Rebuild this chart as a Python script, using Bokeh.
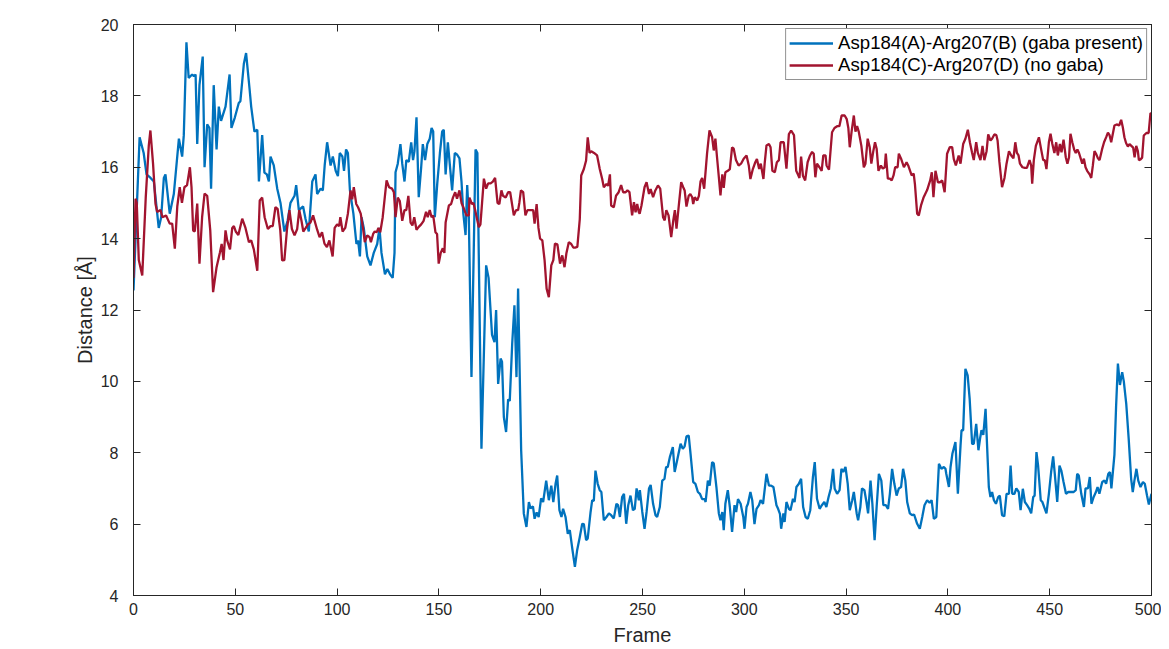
from bokeh.plotting import figure
from bokeh.models import LinearAxis, Range1d, Legend, LegendItem, FixedTicker
from bokeh.embed import file_html
from bokeh.resources import INLINE

# ---------------- data ----------------
x_ticks = [0, 50, 100, 150, 200, 250, 300, 350, 400, 450, 500]
y_ticks = [4, 6, 8, 10, 12, 14, 16, 18, 20]

label_a = "Asp184(A)-Arg207(B) (gaba present)"
label_c = "Asp184(C)-Arg207(D) (no gaba)"

blue_pts = [
    (0, 12.55), (3, 16.84), (5, 16.4), (6.4, 15.8), (8.4, 15.7), (10, 15.6), (12.4, 14.3), (13.6, 14.6),
    (14.9, 15.7), (15.7, 15.8), (17.8, 14.7), (19.8, 15.25), (22.3, 16.8), (23.9, 16.3), (24.7, 16.9),
    (26, 19.5), (27.1, 18.5), (28.8, 18.6), (29.7, 18.55), (30.5, 18.6), (31.3, 16.65), (32.4, 18.3),
    (34, 19.1), (34.9, 16.0), (36.2, 17.2), (37.3, 17.1), (38.1, 15.4), (39.4, 18.3), (40.8, 16.5),
    (41.9, 17.7), (43, 17.3), (45.2, 17.7), (47.2, 18.6), (48.1, 17.1), (49.8, 17.4), (51.7, 17.8),
    (52.5, 17.85), (54.2, 18.9), (55.3, 19.2), (57, 18.2), (57.8, 17.7), (59.4, 17.0), (60.8, 17.05),
    (61.6, 15.6), (63.2, 16.9), (64.3, 15.85), (65.5, 15.8), (66.5, 15.6), (67.3, 16.3), (68.9, 16.05),
    (70.6, 15.4), (72.2, 15.0), (74.1, 14.2), (75.7, 14.5), (77.1, 15.0), (79.1, 15.2), (79.9, 15.5),
    (81.2, 14.8), (83.3, 14.9), (84.5, 14.55), (86.1, 14.2), (87.8, 15.6), (89.4, 15.8), (90.2, 15.25),
    (91.9, 15.4), (93, 15.35), (93.9, 16.05), (95.1, 16.7), (96.8, 16.05), (97.9, 16.3), (99.3, 15.9),
    (100.4, 15.75), (101.3, 16.4), (102.6, 16.3), (103.4, 15.9), (104.4, 16.5), (105.3, 16.4),
    (106.3, 15.35), (108, 14.7), (109.5, 13.85), (110.3, 13.95), (111.2, 13.5), (112, 14.6), (113.1, 14.3),
    (114.8, 13.5), (116.4, 13.25), (118, 13.6), (119.7, 13.85), (120.8, 14.3), (121.8, 13.6), (123.5, 13.0),
    (124.7, 13.15), (126, 13.0), (127.3, 12.9), (128.2, 13.6), (128.7, 15.86), (129.8, 16.1), (131.1, 16.65),
    (132, 16.1), (133.1, 15.6), (134, 16.2), (135.2, 16.15), (136.4, 16.7), (137.3, 16.2), (138, 16.45),
    (139, 17.4), (140.1, 15.16), (141.3, 16.0), (142.1, 16.65), (143.2, 16.2), (144.3, 16.65), (145.5, 16.8),
    (146.4, 17.1), (147.2, 17.0), (148, 14.6), (149.2, 15.55), (150.5, 16.4), (151.6, 17.0), (152.4, 17.05),
    (153.3, 15.8), (154.4, 16.7), (155.4, 16.05), (156.5, 15.35), (157.8, 16.4), (159, 16.35), (160.1, 16.25),
    (161.1, 15.6), (162, 14.7), (163.1, 14.1), (163.9, 15.5), (164.7, 14.6), (166, 10.12), (168, 16.5),
    (168.9, 16.4), (170.9, 8.11), (173.2, 13.25), (174.4, 12.9), (176.1, 11.3), (177.3, 11.1), (178.1, 12.0),
    (179.1, 9.93), (180.3, 10.64), (181, 10.55), (181.9, 9.0), (183, 8.58), (184, 9.5), (184.8, 9.45),
    (186, 11.05), (187.1, 12.13), (188.1, 10.12), (188.9, 12.6), (190.4, 8.07), (191.7, 6.3), (193, 5.92),
    (194.2, 6.62), (195, 6.44), (196.2, 6.5), (197, 6.15), (198, 6.33), (199, 6.2), (200.2, 6.72),
    (201.2, 6.62), (202.7, 7.22), (204, 6.67), (205.2, 7.08), (206.2, 6.62), (207.3, 7.13), (208.1, 7.36),
    (209.2, 6.39), (210.2, 6.2), (211, 6.43), (212.2, 6.2), (213.3, 5.73), (214.3, 5.83), (215.4, 5.36),
    (216.8, 4.8), (217.9, 5.27), (219.2, 5.64), (220.4, 6.01), (221.2, 6.0), (222.3, 5.55), (223.1, 5.6),
    (224.5, 6.34), (225.3, 6.67), (226.1, 6.65), (226.9, 7.5), (228, 7.13), (229, 6.95), (229.8, 6.9),
    (231, 6.11), (232.3, 6.2), (233.5, 6.3), (234.6, 6.25), (235.9, 6.16), (237.2, 6.57), (238, 6.53),
    (238.9, 6.2), (240, 6.76), (240.9, 6.85), (242, 6.01), (243, 6.53), (244.1, 6.8), (245.3, 6.39),
    (246.2, 6.43), (247.1, 7.0), (248.2, 6.67), (248.7, 6.95), (249.9, 6.34), (251, 5.87), (252, 6.34),
    (253.2, 7.0), (254, 7.1), (255.2, 6.57), (256.4, 6.25), (257.2, 6.2), (258.5, 6.48), (259.7, 7.22),
    (260.8, 7.27), (261.6, 7.6), (262.4, 7.6), (263.4, 7.87), (264.9, 8.16), (265.8, 7.46), (267, 7.78),
    (268.7, 8.25), (269.8, 8.11), (270.7, 8.18), (271.6, 8.46), (272.7, 8.48), (273.6, 7.97), (274.9, 7.18),
    (276, 7.13), (277.2, 6.9), (278.2, 6.85), (279.3, 6.7), (280.5, 6.7), (281, 6.62), (282.1, 7.22),
    (283, 7.08), (284.2, 7.74), (285, 7.7), (286.3, 7.04), (287.5, 6.3), (288.3, 6.11), (289.2, 6.34),
    (289.9, 5.83), (290.7, 6.57), (291.9, 6.95), (292.9, 6.48), (294, 5.78), (295.2, 6.53), (296, 6.34),
    (296.9, 6.7), (298.2, 6.57), (299.5, 6.2), (300.1, 5.87), (301.1, 6.48), (301.8, 6.57), (303, 6.9),
    (303.9, 6.67), (305, 6.0), (306, 6.43), (307.2, 6.53), (308, 6.67), (309.2, 6.57), (310.9, 7.41),
    (312.1, 7.08), (313, 7.08), (314.3, 7.04), (315.8, 6.53), (316.6, 6.43), (317.5, 6.29), (318.1, 5.87),
    (319.2, 6.3), (319.8, 6.06), (320.7, 6.62), (321.9, 6.43), (322.7, 6.39), (323.9, 6.71), (324.7, 6.62),
    (325.6, 7.04), (326.8, 7.13), (327.9, 7.27), (328.9, 6.48), (330.1, 6.2), (331.2, 6.15), (332.4, 6.39),
    (333.7, 7.32), (334.6, 7.74), (335.7, 6.71), (337, 6.43), (338.1, 6.53), (339.3, 6.62), (340.3, 6.48),
    (341.4, 6.76), (342.5, 7.0), (343.6, 7.55), (344.4, 6.99), (345.6, 6.85), (346.8, 6.95), (347.7, 7.55),
    (348.6, 7.46), (349.7, 7.6), (350.8, 7.13), (351.8, 6.39), (353, 6.67), (353.8, 6.9), (355.2, 6.3),
    (355.9, 6.11), (357, 6.48), (357.8, 7.0), (359, 6.95), (360, 6.62), (360.8, 6.3), (362, 7.22),
    (362.9, 6.57), (364, 5.55), (365, 6.48), (366.1, 7.41), (367.3, 7.22), (368.3, 6.53), (369.5, 6.53),
    (370.6, 6.43), (371.5, 6.85), (372.6, 7.55), (373.7, 7.13), (374.8, 6.8), (375.9, 7.0), (377, 7.04),
    (378, 7.55), (379.1, 7.22), (380, 6.62), (381.3, 6.3), (382.4, 6.25), (383.4, 6.27), (384.9, 6.01),
    (386.2, 5.87), (387.4, 6.2), (388.5, 6.53), (389.8, 6.67), (391, 6.6), (392, 6.67), (393.1, 6.15),
    (394.3, 6.2), (395.6, 7.69), (396.8, 7.55), (398, 7.6), (398.8, 7.55), (399.2, 7.41), (400.5, 7.04),
    (401.3, 7.6), (402.2, 7.97), (403.7, 8.3), (404.9, 6.85), (406.2, 8.2), (406.7, 8.63), (407.5, 8.63),
    (408.6, 10.35), (409.7, 10.17), (410.7, 9.5), (411.9, 8.25), (412.7, 8.25), (413.9, 8.81), (415, 8.07),
    (415.8, 8.4), (416.5, 8.63), (417.4, 8.5), (418.5, 9.23), (419, 8.53), (420.1, 7.04), (420.9, 6.76),
    (421.7, 6.9), (422.6, 6.67), (423.6, 6.57), (424.7, 6.76), (425.5, 6.8), (426.6, 6.25), (427.7, 6.22),
    (428.8, 6.85), (430, 6.85), (430.8, 7.64), (431.6, 6.85), (432.7, 6.85), (433.6, 7.0), (434.8, 6.9),
    (435.7, 6.39), (436.8, 6.99), (437.8, 6.62), (438.9, 6.53), (440, 6.43), (440.9, 6.3), (441.9, 6.76),
    (442.6, 6.8), (443.5, 8.02), (444.3, 7.64), (445.6, 6.67), (446.4, 6.62), (447.6, 6.43), (448.4, 6.3),
    (449.6, 6.85), (450.7, 7.46), (451.7, 7.9), (452.5, 7.41), (453.7, 6.62), (454.8, 7.64), (455.7, 7.5),
    (456.8, 7.18), (458, 6.85), (459.1, 6.9), (460.5, 6.9), (461.8, 6.9), (462.8, 6.95), (463.5, 7.41),
    (464.3, 7.36), (465.5, 6.85), (466.8, 6.48), (467.6, 7.0), (468.8, 7.0), (469.7, 7.32), (470.5, 6.57),
    (471.6, 6.76), (472.7, 6.9), (473.5, 7.04), (474.4, 6.85), (475.8, 7.18), (476.9, 7.22), (477.7, 7.13),
    (478.8, 7.41), (479.6, 7.46), (480.3, 7.0), (481.8, 7.95), (482.6, 9.28), (483.5, 10.5), (484.5, 9.9),
    (485.6, 10.26), (486.4, 10.0), (487.6, 9.37), (488.8, 8.39), (490, 7.27), (490.8, 6.9), (491.6, 7.22),
    (492.6, 7.55), (493.5, 7.22), (494.6, 7.04), (495.8, 7.18), (496.7, 7.13), (497.8, 6.8), (498.7, 6.55),
    (500, 6.85),
]

red_pts = [
    (0, 12.9), (1, 15.12), (1.6, 15.0), (2.6, 13.4), (4.3, 12.97), (6, 15.14), (7.5, 16.6), (8.3, 17.03),
    (9.6, 16.1), (10.8, 14.98), (11.6, 14.75), (13.3, 14.8), (14.2, 14.6), (16, 14.65), (17.8, 14.42),
    (19, 14.42), (20.3, 13.72), (21.5, 14.9), (22.7, 15.44), (23.8, 15.0), (25, 15.44), (26.3, 15.5),
    (27.7, 16.0), (28.5, 15.44), (29.3, 14.23), (30.1, 14.2), (31.3, 14.98), (32.4, 13.3), (33.7, 14.6),
    (34.9, 15.26), (36.2, 15.2), (37.7, 14.23), (39.1, 12.5), (40.8, 13.2), (42.4, 13.6), (43.3, 13.85),
    (44.2, 13.4), (45.2, 14.23), (46, 13.95), (47.4, 13.7), (48.5, 14.3), (49.3, 14.35), (50.2, 14.2),
    (51.5, 14.1), (53.4, 14.56), (55, 14.3), (56.7, 13.9), (57.8, 13.95), (59.1, 13.7), (60.8, 13.1),
    (62, 15.07), (63.2, 15.15), (64.4, 14.6), (66, 14.27), (67.3, 14.35), (68.4, 14.35), (69.7, 14.88),
    (70.8, 14.83), (72.1, 14.23), (73, 13.39), (74.1, 13.4), (75.4, 14.27), (76.6, 14.8), (77.8, 14.27),
    (79.1, 14.09), (80.4, 14.27), (81.4, 14.8), (82.5, 14.5), (83.4, 14.2), (84.6, 14.3), (85.7, 14.4),
    (86.9, 14.45), (88.2, 14.65), (90.2, 14.25), (91.4, 14.04), (92.6, 14.18), (93.8, 13.86), (95, 13.76),
    (96.2, 13.95), (97.8, 13.5), (98.8, 14.3), (100, 14.4), (101, 14.35), (101.6, 14.6), (102.7, 14.2),
    (104, 14.3), (105.3, 14.7), (106.6, 15.35), (107.4, 15.1), (108.2, 15.44), (109.4, 14.97), (110.3, 14.88),
    (111.6, 14.7), (112.8, 14.27), (113.6, 13.9), (114.8, 14.09), (116, 14.04), (116.6, 13.9), (117.7, 14.13),
    (118.5, 14.2), (119.5, 14.18), (120.3, 14.3), (121.2, 14.18), (122.4, 14.6), (124.3, 15.63),
    (125.5, 15.44), (127, 15.4), (127.9, 15.3), (128.7, 14.6), (129.8, 15.15), (130.8, 15.05), (132, 14.5),
    (133.1, 14.8), (134, 14.8), (135, 15.2), (136.1, 14.45), (137, 14.37), (137.9, 14.6), (139, 14.25),
    (140.1, 14.33), (141.3, 14.4), (142.5, 14.5), (143.7, 14.75), (144.5, 14.6), (145.5, 14.8), (146.4, 14.6),
    (147.2, 14.65), (148.3, 14.18), (149.1, 14.13), (149.9, 13.3), (150.9, 13.6), (151.9, 13.73),
    (152.7, 13.6), (153.3, 14.45), (154.9, 14.93), (156, 14.97), (156.9, 15.15), (158, 15.3), (158.9, 15.12),
    (160.1, 15.35), (161.1, 15.0), (162.2, 14.85), (163.5, 14.65), (164.7, 14.65), (165, 15.15),
    (166.2, 14.97), (167, 15.0), (167.8, 14.8), (169.6, 14.32), (170.4, 14.4), (171.2, 15.0), (172.1, 15.68),
    (173.2, 15.4), (174.2, 15.55), (175.4, 15.55), (176.5, 15.6), (177.6, 15.7), (178.8, 15.0),
    (179.7, 14.97), (180.7, 15.35), (181.5, 15.2), (182.8, 15.15), (184, 15.3), (185, 15.3), (186.8, 14.65),
    (187.9, 14.8), (188.9, 14.8), (189.5, 15.0), (190.3, 15.35), (191.4, 15.3), (192.5, 14.65),
    (193.5, 14.8), (195, 14.8), (196.3, 14.8), (197, 14.42), (198, 14.97), (198.9, 14.3), (199.7, 14.0),
    (200.8, 13.95), (201.9, 13.4), (202.9, 12.6), (204, 12.36), (205.2, 13.25), (206.2, 13.4), (207, 13.86),
    (208.2, 13.84), (209.5, 13.3), (210.6, 13.53), (211.7, 13.2), (212.6, 13.58), (213.8, 13.9),
    (215, 13.85), (216, 13.75), (216.9, 13.75), (218, 13.77), (219.2, 14.55), (219.9, 15.77),
    (221.2, 15.95), (222.3, 16.19), (223.1, 16.84), (224, 16.4), (224.8, 16.45), (226.2, 16.4),
    (227.7, 16.33), (229, 15.95), (230.2, 15.67), (231, 15.44), (232.3, 15.53), (233.1, 15.48), (234, 15.8),
    (234.6, 14.93), (235.9, 14.88), (237, 15.2), (238.3, 15.3), (239.5, 15.5), (240.5, 15.3), (241.7, 15.3),
    (242.6, 15.35), (243.6, 15.3), (244.9, 14.65), (245.8, 15.02), (246.6, 14.74), (247.4, 14.97),
    (248.2, 14.74), (248.6, 14.7), (249.5, 14.93), (251, 15.44), (252, 15.58), (253.2, 15.25),
    (254, 15.39), (255.2, 15.16), (256.3, 15.35), (257.6, 15.49), (258.7, 15.4), (260.1, 14.6),
    (260.9, 14.51), (261.7, 14.8), (262.8, 14.65), (264.1, 14.04), (265.1, 14.5), (265.9, 14.8),
    (266.7, 14.28), (267.9, 14.97), (269, 15.58), (270, 15.44), (270.7, 15.35), (271.6, 14.9),
    (272.7, 15.2), (273.5, 15.25), (274.4, 15.16), (274.9, 14.97), (275.7, 15.16), (276.9, 15.07),
    (277.7, 15.2), (278.5, 15.6), (279.3, 15.7), (280.3, 15.4), (281.7, 16.38), (282.9, 17.03),
    (284.2, 16.84), (285, 16.47), (285.8, 16.8), (286.6, 16.28), (287.5, 15.72), (288.3, 15.21),
    (289.2, 15.8), (289.9, 15.42), (290.7, 15.86), (291.9, 15.9), (292.9, 15.95), (294, 16.56),
    (294.8, 16.52), (295.9, 16.2), (297.2, 16.05), (298.4, 16.1), (299.7, 16.24), (301.1, 16.33),
    (302.2, 16.05), (303, 15.67), (304.2, 15.95), (305.4, 16.14), (306.2, 16.23), (307.3, 15.95),
    (308.1, 16.1), (309.4, 15.67), (310, 16.1), (310.9, 16.61), (312.1, 16.65), (312.9, 16.56),
    (313.8, 15.9), (315, 15.86), (316, 16.14), (317, 16.2), (317.8, 16.7), (319.4, 16.7), (320.7, 15.96),
    (321.9, 16.93), (323, 17.03), (324.4, 16.9), (325.5, 15.9), (326.3, 15.8), (327.1, 15.7), (327.9, 16.3),
    (328.8, 15.76), (329.9, 15.63), (331.1, 16.14), (332.3, 16.33), (333.3, 16.43), (334.1, 16.38),
    (334.9, 15.72), (335.7, 16.1), (336.9, 16.0), (338, 15.9), (338.8, 16.33), (339.9, 16.33),
    (340.4, 16.05), (341.6, 15.93), (343.1, 16.98), (344.3, 17.1), (345.6, 17.15), (346.7, 17.15),
    (347.8, 17.45), (349.3, 17.45), (350.3, 17.35), (351.1, 17.1), (351.8, 16.56), (352.7, 17.0),
    (353.8, 17.45), (354.6, 17.0), (355.4, 17.15), (356.2, 17.0), (357.5, 16.6), (358.7, 16.0),
    (359.5, 16.1), (360.6, 16.8), (361.6, 16.56), (362.4, 16.1), (363.3, 16.43), (364.2, 16.7),
    (365, 16.52), (365.9, 15.9), (367.1, 16.05), (368, 15.96), (369, 16.0), (369.5, 16.38), (370.5, 15.68),
    (371.5, 15.68), (372.4, 15.63), (373.3, 15.77), (374.1, 16.0), (375.3, 16.0), (375.9, 16.38),
    (377, 16.24), (378.4, 16.0), (379.7, 16.14), (380.5, 16.05), (382.2, 15.77), (383.2, 15.82),
    (383.8, 15.53), (384.9, 14.7), (385.7, 14.65), (386.8, 14.93), (388.1, 15.16), (389.8, 15.36),
    (391.3, 15.63), (392.1, 15.86), (392.9, 15.16), (393.9, 15.9), (395.1, 15.58), (396.2, 15.58),
    (397.2, 15.63), (398.4, 15.3), (399.6, 16.38), (400.9, 16.56), (402.1, 16.56), (402.9, 16.23),
    (403.9, 16.05), (405.3, 16.33), (406.2, 16.1), (407.5, 16.65), (408.6, 16.8), (409.8, 17.05),
    (410.8, 16.7), (411.9, 16.4), (412.7, 16.2), (413.9, 16.7), (414.7, 16.4), (416, 16.2), (417, 16.6),
    (417.9, 16.2), (419, 16.45), (419.8, 16.92), (420.9, 16.75), (421.7, 16.8), (422.8, 16.92),
    (423.8, 16.9), (424.4, 16.75), (425.3, 16.15), (426.6, 15.44), (427.8, 15.7), (428.8, 16.1),
    (430, 16.45), (431.1, 16.33), (432.2, 16.25), (433.1, 16.7), (433.9, 16.4), (434.7, 16.33),
    (435.4, 16.1), (436.6, 16.0), (437.8, 15.98), (438.8, 15.98), (440.1, 16.2), (440.9, 16.05),
    (441.4, 15.54), (442.2, 16.2), (443.2, 16.6), (444.7, 16.84), (445.8, 16.5), (446.8, 16.2),
    (447.6, 16.2), (448.4, 15.95), (449.6, 16.7), (450.4, 16.94), (451.3, 16.65), (452.3, 16.4),
    (453.2, 16.7), (454, 16.33), (455, 16.65), (455.8, 16.42), (456.8, 16.77), (457.9, 16.28),
    (458.7, 16.1), (459.5, 16.28), (460.2, 16.94), (461.1, 16.7), (462, 16.5), (462.8, 16.4),
    (463.6, 16.5), (464.4, 16.4), (466, 16.1), (466.8, 16.24), (467.6, 16.0), (468.4, 15.9),
    (469.6, 15.8), (470.4, 15.7), (471.2, 16.05), (472, 16.45), (472.9, 16.36), (473.7, 16.25),
    (474.5, 16.2), (475.7, 16.5), (476.7, 16.7), (477.8, 16.85), (478.6, 16.97), (479.4, 16.9),
    (480.2, 16.7), (481.8, 17.17), (482.9, 17.2), (484.1, 17.17), (485.1, 17.33), (485.9, 17.12),
    (486.7, 16.84), (487.5, 16.68), (488.4, 16.58), (489.2, 16.65), (490.1, 16.6), (491, 16.55),
    (491.7, 16.28), (492.5, 16.6), (493.3, 16.45), (493.8, 16.2), (494.6, 16.22), (495.4, 16.27),
    (496.2, 16.89), (497.5, 16.96), (498.6, 16.96), (499.5, 17.52), (500, 17.5),
]

blue_frame = [f for f, _ in blue_pts]
blue_dist = [d for _, d in blue_pts]
red_frame = [f for f, _ in red_pts]
red_dist = [d for _, d in red_pts]

# ---------------- styling ----------------
FONT = "Liberation Sans"
AX = "#262626"
BLUE = "#0072BD"
RED = "#A2142F"

p = figure(width=1161, height=648,
           x_range=Range1d(0, 500), y_range=Range1d(4, 20),
           output_backend="svg", toolbar_location=None,
           min_border_left=133, min_border_right=10,
           min_border_top=24, min_border_bottom=53)
p.background_fill_color = "white"
p.border_fill_color = "white"
p.outline_line_color = AX
p.outline_line_width = 1
p.grid.visible = False

rb = p.line(blue_frame, blue_dist, line_color=BLUE, line_width=2.3)
rr = p.line(red_frame, red_dist, line_color=RED, line_width=2.3)


def style_axis(ax, ticks, show_labels):
    ax.ticker = FixedTicker(ticks=ticks)
    ax.axis_line_color = AX
    ax.major_tick_line_color = AX
    ax.major_tick_in = 7
    ax.major_tick_out = 0
    ax.minor_tick_line_color = None
    ax.major_label_text_font = FONT
    ax.major_label_text_color = AX
    if show_labels:
        ax.major_label_text_font_size = "16px"
    else:
        ax.major_label_overrides = {t: "" for t in ticks}
        ax.major_label_text_color = None
        ax.major_label_text_font_size = "1px"
        ax.major_label_standoff = 0


xa = p.xaxis[0]
ya = p.yaxis[0]
style_axis(xa, x_ticks, True)
style_axis(ya, y_ticks, True)
xa.major_label_standoff = 7
ya.major_label_standoff = 15
xa.axis_label = "Frame"
ya.axis_label = "Distance [Å]"
for ax in (xa, ya):
    ax.axis_label_text_font = FONT
    ax.axis_label_text_font_size = "20px"
    ax.axis_label_text_font_style = "normal"
    ax.axis_label_text_color = AX
xa.axis_label_standoff = 6
ya.axis_label_standoff = 2

top = LinearAxis()
right = LinearAxis()
style_axis(top, x_ticks, False)
style_axis(right, y_ticks, False)
p.add_layout(top, "above")
p.add_layout(right, "right")

legend = Legend(items=[LegendItem(label=label_a, renderers=[rb]),
                       LegendItem(label=label_c, renderers=[rr])],
                location="top_right")
legend.margin = 4
legend.padding = 3
legend.spacing = 0
legend.label_height = 20
legend.glyph_height = 20
legend.glyph_width = 44
legend.label_standoff = 5
legend.label_text_font = FONT
legend.label_text_font_size = "18.6px"
legend.label_text_color = "black"
legend.border_line_color = AX
legend.border_line_width = 1
legend.background_fill_color = "white"
legend.background_fill_alpha = 1.0
p.add_layout(legend)

open("out.html", "w").write(file_html(p, INLINE))
